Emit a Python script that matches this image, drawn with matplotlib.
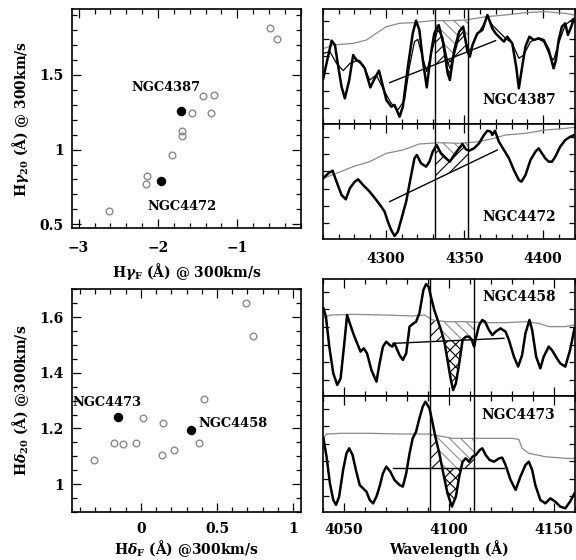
import numpy as np
import matplotlib
matplotlib.use("Agg")
import matplotlib.pyplot as plt
from matplotlib.ticker import MultipleLocator, NullFormatter

plt.rcParams['font.family'] = ['DejaVu Serif']
plt.rcParams['font.weight'] = 'bold'
plt.rcParams['axes.labelweight'] = 'bold'
plt.rcParams['mathtext.fontset'] = 'dejavuserif'
plt.rcParams['mathtext.default'] = 'bf'
plt.rcParams['hatch.linewidth'] = 0.8
plt.rcParams['font.size'] = 10

# ---------------- scatter data ----------------
hg_F_open = [-0.587, -0.495, -1.574, -1.436, -1.293, -1.331, -1.700, -1.693, -1.827, -2.142, -2.151, -2.613]
hg_20_open = [1.818, 1.740, 1.243, 1.359, 1.368, 1.243, 1.126, 1.092, 0.967, 0.821, 0.767, 0.588]
hg_names = ['NGC4387', 'NGC4472']
hg_F_named = [-1.709, -1.961]
hg_20_named = [1.258, 0.790]

hd_F_open = [0.688, 0.737, 0.413, 0.017, 0.146, -0.177, -0.114, -0.029, 0.382, 0.138, 0.220, -0.308]
hd_20_open = [1.650, 1.533, 1.307, 1.237, 1.218, 1.149, 1.143, 1.149, 1.147, 1.103, 1.124, 1.087]
hd_names = ['NGC4473', 'NGC4458']
hd_F_named = [-0.151, 0.329]
hd_20_named = [1.242, 1.194]

# ---------------- spectra (normalised flux, arbitrary units) ----------------
HGF_BAND = [4331.25, 4352.25]
HDF_BAND = [4091.0, 4112.25]

n4387_lam = [4260.2, 4262.7, 4265.5, 4267.6, 4269.7, 4271.8, 4273.9, 4276.7, 4279.2, 4281.3, 4283.4, 4286.6,
             4290.1, 4292.9, 4295.6, 4298.2, 4300.3, 4303.4, 4305.5, 4308.7, 4310.8, 4314.0, 4317.1, 4319.2,
             4321.3, 4323.5, 4326.0, 4328.7, 4330.8, 4333.6, 4336.5, 4339.3, 4340.7, 4343.5, 4346.6, 4349.2,
             4351.9, 4353.4, 4355.1, 4358.2, 4361.4, 4364.6, 4367.7, 4369.8, 4371.9, 4375.1, 4377.2, 4380.4,
             4382.9, 4384.6, 4386.7, 4388.8, 4391.3, 4394.1, 4397.2, 4400.4, 4403.6, 4406.7, 4408.2, 4409.9,
             4412.0, 4414.1, 4415.8, 4417.5, 4419.4]
n4387_flux = [39.5, 55.4, 72.2, 68.4, 49.6, 32.3, 22.2, 38.1, 59.7, 55.4, 54.0, 48.2,
              31.7, 39.5, 46.2, 32.3, 20.8, 15.0, 16.5, 6.3, 15.0, 49.6, 78.5, 89.5,
              81.4, 55.4, 31.7, 61.2, 78.5, 85.7, 69.8, 43.9, 38.1, 64.1, 79.9, 84.3,
              62.6, 58.3, 68.4, 78.5, 81.4, 94.4, 82.8, 78.5, 75.6, 71.3, 75.6, 69.8,
              49.6, 30.9, 49.6, 67.0, 75.6, 72.7, 74.2, 72.7, 64.1, 48.2, 55.4, 72.7,
              84.3, 87.2, 77.1, 82.8, 90.0]
n4387_smooth_lam = [4260.2, 4264.4, 4268.6, 4272.9, 4277.1, 4281.3, 4285.5, 4289.7, 4293.9, 4299.2, 4303.4,
                    4307.6, 4311.9, 4315.0, 4318.2, 4320.3, 4323.5, 4326.0, 4329.4, 4332.9, 4336.1, 4339.3,
                    4340.7, 4343.5, 4346.6, 4349.2, 4351.9, 4354.0, 4357.2, 4361.4, 4364.6, 4367.7, 4371.9,
                    4376.1, 4380.4, 4384.6, 4387.7, 4392.0, 4396.2, 4400.4, 4404.6, 4406.7, 4409.9, 4414.1,
                    4419.4]
n4387_smooth_flux = [61.2, 62.6, 52.5, 46.2, 52.5, 54.8, 51.1, 38.1, 42.4, 28.0, 17.9,
                     12.1, 20.8, 49.6, 71.3, 73.3, 56.9, 45.3, 64.1, 81.4, 75.6, 54.0,
                     48.2, 59.7, 75.6, 79.9, 65.5, 64.1, 75.6, 84.3, 92.9, 85.7, 79.9,
                     74.2, 69.8, 56.9, 59.7, 71.3, 74.2, 71.3, 58.3, 55.4, 69.8, 85.7,
                     91.5]
n4387_grey_lam = [4260.6, 4266.5, 4279.2, 4287.6, 4293.9, 4300.3, 4308.7, 4317.1, 4329.8, 4340.3, 4350.9,
                  4363.5, 4376.1, 4388.8, 4401.4, 4414.1, 4419.6]
n4387_grey_flux = [65.5, 68.4, 69.8, 72.7, 78.5, 84.3, 87.2, 87.7, 89.5, 89.5, 90.0,
                   92.9, 94.4, 96.4, 97.3, 95.8, 94.4]
n4387_cont_lam = [4302.4, 4369.8]
n4387_cont_flux = [35.8, 72.2]

n4472_lam = [4260.2, 4263.4, 4266.1, 4268.6, 4271.8, 4274.5, 4277.1, 4280.2, 4282.3, 4285.5, 4289.7, 4293.9,
             4297.1, 4299.2, 4301.3, 4303.4, 4305.5, 4307.6, 4309.7, 4312.9, 4316.1, 4318.2, 4319.7, 4322.4,
             4325.6, 4327.7, 4329.8, 4332.3, 4335.0, 4338.2, 4340.7, 4343.5, 4346.6, 4348.7, 4350.9, 4353.0,
             4356.1, 4359.3, 4362.4, 4364.6, 4366.7, 4367.7, 4369.4, 4371.9, 4375.1, 4378.3, 4381.4, 4384.6,
             4386.3, 4388.8, 4392.0, 4395.1, 4397.2, 4399.3, 4401.4, 4403.6, 4405.7, 4407.8, 4410.9, 4414.1,
             4417.3, 4420.0]
n4472_flux = [53.0, 57.3, 59.6, 50.1, 38.5, 34.8, 44.3, 50.1, 52.1, 47.2, 41.4, 34.2,
              28.4, 24.1, 15.4, 8.2, 3.0, 6.8, 16.9, 32.8, 55.8, 70.3, 73.2, 65.9,
              63.1, 67.4, 76.0, 81.8, 74.6, 70.3, 67.4, 73.2, 78.9, 82.7, 78.1, 76.9,
              78.9, 83.3, 90.5, 94.2, 93.4, 90.5, 94.2, 84.7, 77.5, 70.3, 60.2, 51.5,
              50.1, 55.8, 68.8, 76.0, 78.9, 74.6, 70.3, 67.4, 67.4, 71.7, 80.4, 86.1,
              89.0, 90.5]
n4472_grey_lam = [4260.2, 4268.6, 4279.2, 4289.7, 4300.3, 4310.8, 4321.3, 4334.0, 4346.6, 4359.3, 4368.8,
                  4376.1, 4388.8, 4401.4, 4414.1, 4420.0]
n4472_grey_flux = [53.0, 57.3, 63.1, 67.4, 74.6, 77.5, 82.7, 83.8, 83.3, 84.7, 87.6,
                   90.5, 91.9, 94.8, 96.2, 97.1]
n4472_cont_lam = [4302.4, 4370.9]
n4472_cont_flux = [32.8, 77.5]

n4458_lam = [4040.2, 4041.4, 4043.0, 4044.9, 4046.8, 4048.4, 4050.0, 4051.5, 4052.8, 4054.4, 4056.3, 4057.9,
             4059.4, 4061.0, 4063.1, 4065.5, 4067.0, 4068.6, 4070.2, 4071.8, 4073.0, 4074.1, 4076.5, 4078.1,
             4079.7, 4081.3, 4083.2, 4084.4, 4086.0, 4087.9, 4089.2, 4090.4, 4091.5, 4093.1, 4094.7, 4096.3,
             4097.9, 4099.4, 4101.0, 4102.1, 4103.4, 4105.0, 4106.6, 4108.1, 4109.7, 4111.0, 4112.1, 4112.9,
             4114.5, 4116.0, 4117.3, 4119.2, 4120.8, 4122.4, 4124.7, 4127.1, 4128.7, 4131.1, 4133.1, 4135.0,
             4136.6, 4138.5, 4139.8, 4141.7, 4143.7, 4145.3, 4147.7, 4149.2, 4151.6, 4153.2, 4155.6, 4157.9,
             4160.0]
n4458_flux = [74.9, 67.8, 42.2, 19.4, 9.4, 15.1, 42.2, 69.2, 62.1, 53.6, 45.0, 37.9,
              40.7, 36.5, 22.2, 12.3, 27.9, 42.2, 46.4, 43.6, 42.2, 45.0, 35.0, 30.8,
              36.5, 59.3, 62.1, 63.5, 70.7, 90.6, 95.7, 93.4, 84.9, 73.5, 65.0, 56.4,
              46.4, 30.8, 13.7, 5.1, 10.8, 27.9, 47.9, 50.7, 50.7, 47.9, 42.2, 49.3,
              60.7, 65.0, 63.5, 56.4, 52.1, 55.0, 57.8, 55.0, 47.9, 33.6, 25.1, 35.0,
              53.6, 65.0, 56.4, 33.6, 23.6, 33.6, 42.2, 39.3, 32.2, 27.9, 25.1, 39.3,
              57.8]
n4458_grey_lam = [4040.2, 4043.3, 4054.4, 4070.2, 4082.8, 4088.4, 4092.3, 4098.7, 4108.1, 4117.6, 4127.1,
                  4136.6, 4142.9, 4147.7, 4155.6, 4160.0]
n4458_grey_flux = [66.4, 69.2, 69.8, 69.2, 68.4, 69.2, 65.0, 63.5, 63.5, 62.7, 62.7,
                   63.5, 62.1, 59.3, 59.3, 60.7]
n4458_cont_lam = [4073.4, 4126.3]
n4458_cont_flux = [45.0, 49.3]

n4473_lam = [4040.2, 4041.7, 4043.3, 4044.9, 4046.2, 4047.7, 4049.6, 4051.2, 4052.5, 4054.1, 4055.7, 4057.5,
             4059.1, 4060.7, 4062.3, 4063.9, 4065.5, 4067.0, 4068.6, 4070.2, 4072.1, 4074.1, 4076.5, 4078.1,
             4079.7, 4081.3, 4082.8, 4084.4, 4086.0, 4087.6, 4088.9, 4090.8, 4092.0, 4093.6, 4095.5, 4097.4,
             4099.4, 4101.5, 4103.4, 4105.0, 4106.6, 4108.1, 4109.7, 4111.3, 4112.9, 4114.8, 4116.0, 4117.6,
             4119.5, 4121.6, 4124.0, 4125.5, 4127.1, 4129.5, 4131.9, 4134.2, 4136.6, 4138.2, 4139.8, 4141.3,
             4143.7, 4146.1, 4148.5, 4150.8, 4153.2, 4155.6, 4157.9, 4160.0]
n4473_flux = [63.6, 47.8, 24.9, 10.6, 6.3, 13.5, 36.4, 50.7, 55.0, 49.3, 36.4, 23.5,
              20.6, 17.8, 10.6, 7.7, 13.5, 22.1, 33.5, 39.3, 35.0, 27.8, 23.5, 22.1,
              33.5, 50.7, 63.6, 69.3, 80.8, 90.8, 95.1, 89.4, 79.4, 65.0, 50.7, 33.5,
              16.3, 4.9, 13.5, 30.7, 43.5, 46.4, 43.5, 47.8, 49.3, 53.6, 55.0, 49.3,
              45.0, 43.5, 46.4, 47.0, 40.7, 27.8, 19.2, 30.7, 40.7, 43.5, 36.4, 23.5,
              10.6, 7.7, 12.0, 9.2, 4.9, 3.4, 9.2, 16.3]
n4473_grey_lam = [4040.2, 4041.7, 4048.1, 4062.3, 4078.1, 4090.8, 4101.8, 4117.6, 4130.3, 4133.4, 4135.0,
                  4138.2, 4146.1, 4155.6, 4160.0]
n4473_grey_flux = [63.6, 67.3, 67.9, 67.9, 67.3, 67.3, 63.6, 63.6, 63.6, 62.7, 55.0,
                   50.7, 47.8, 46.4, 46.4]
n4473_cont_lam = [4073.4, 4126.3]
n4473_cont_flux = [37.8, 37.8]

# ---------------- figure ----------------
W, H = 576, 560
fig = plt.figure(figsize=(W / 100, H / 100), dpi=100)


def add_ax(x0, x1, y0, y1):
    return fig.add_axes([x0 / W, 1 - y1 / H, (x1 - x0) / W, (y1 - y0) / H])


def style(ax, xpad):
    ax.tick_params(which='both', direction='in', top=True, right=True, width=0.9)
    ax.tick_params(which='major', length=6.5)
    ax.tick_params(which='minor', length=3.5)
    ax.tick_params(axis='x', which='major', pad=xpad)
    ax.tick_params(axis='y', which='major', pad=6)
    for s in ax.spines.values():
        s.set_linewidth(1.2)


GREY = '#8a8a8a'
NAME_FS = 9.4

# top-left scatter
ax1 = add_ax(72.3, 300.7, 9.3, 228)
ax1.plot(hg_F_open, hg_20_open, 'o', ms=4.8, mfc='none', mec=GREY, mew=1.0)
ax1.plot(hg_F_named, hg_20_named, 'o', ms=5.8, mfc='k', mec='k')
ax1.set_xlim(-3.08, -0.2)
ax1.set_ylim(0.475, 1.94)
ax1.xaxis.set_minor_locator(MultipleLocator(0.2))
ax1.yaxis.set_minor_locator(MultipleLocator(0.1))
ax1.set_yticks([0.5, 1.0, 1.5], ['0.5', '1', '1.5'])
ax1.set_xticks([-3, -2, -1], ['\u22123', '\u22122', '\u22121'])
style(ax1, 9)
ax1.set_xlabel(r'H$\mathit{\gamma}_{\mathbf{F}}$ (Å) @ 300km/s', labelpad=5)
ax1.set_ylabel(r'H$\mathit{\gamma}_{\mathbf{20}}$ (Å) @ 300km/s', labelpad=6)
for name, x, y, off in zip(hg_names, hg_F_named, hg_20_named, [(-11, 17), (15.5, -18.5)]):
    ax1.annotate(name, (x, y), xytext=off, textcoords='offset points', ha='center', va='center',
                 fontsize=NAME_FS)

# bottom-left scatter
ax3 = add_ax(72.3, 300.7, 289.3, 512)
ax3.plot(hd_F_open, hd_20_open, 'o', ms=4.8, mfc='none', mec=GREY, mew=1.0)
ax3.plot(hd_F_named, hd_20_named, 'o', ms=5.8, mfc='k', mec='k')
ax3.set_xlim(-0.45, 1.05)
ax3.set_ylim(0.9, 1.7)
ax3.xaxis.set_minor_locator(MultipleLocator(0.1))
ax3.yaxis.set_minor_locator(MultipleLocator(0.05))
ax3.set_xticks([0, 0.5, 1], ['0', '0.5', '1'])
ax3.set_yticks([1.0, 1.2, 1.4, 1.6], ['1', '1.2', '1.4', '1.6'])
style(ax3, 7)
ax3.set_xlabel(r'H$\mathit{\delta}_{\mathbf{F}}$ (Å) @300km/s', labelpad=2)
ax3.set_ylabel(r'H$\mathit{\delta}_{\mathbf{20}}$ (Å) @300km/s', labelpad=6)
for name, x, y, off in zip(hd_names, hd_F_named, hd_20_named, [(-7.5, 10.5), (30.5, 5)]):
    ax3.annotate(name, (x, y), xytext=off, textcoords='offset points', ha='center', va='center',
                 fontsize=NAME_FS)


def spectrum_panel(ax, lam, flux, glam, gflux, clam, cflux, band, name, label_xy, smooth=None):
    grid = np.linspace(band[0], band[1], 600)
    s = np.interp(grid, lam, flux)
    g = np.interp(grid, glam, gflux)
    c = cflux[0] + (grid - clam[0]) * (cflux[1] - cflux[0]) / (clam[1] - clam[0])
    top = np.minimum(s, g)
    ax.fill_between(grid, c, top, where=top > c, interpolate=True, facecolor='none',
                    edgecolor='k', hatch='///', lw=0, zorder=1)
    low = np.maximum(s, c)
    ax.fill_between(grid, low, g, where=g > low, interpolate=True, facecolor='none',
                    edgecolor=GREY, hatch='\\\\\\', lw=0, zorder=1)
    ax.fill_between(grid, s, c, where=s < c, interpolate=True, facecolor='none',
                    edgecolor='k', hatch='xxx', lw=0, zorder=1)
    ax.plot(glam, gflux, color=GREY, lw=0.9, zorder=2)
    if smooth is not None:
        ax.plot(smooth[0], smooth[1], color='k', lw=0.9, zorder=3)
    ax.plot(lam, flux, color='k', lw=1.8, zorder=4, solid_joinstyle='round')
    ax.plot(clam, cflux, color='k', lw=1.0, zorder=4)
    for b in band:
        ax.axvline(b, color='k', lw=1.0, zorder=5)
    ax.text(label_xy[0], label_xy[1], name, ha='center', va='center', fontsize=9.9, zorder=6)
    ax.set_ylim(0, 100)
    ax.set_yticks([14, 29, 44, 59, 74, 89])
    ax.yaxis.set_major_formatter(NullFormatter())
    ax.tick_params(axis='y', which='major', length=4.5)


XR = 574.5
ax2a = add_ax(323, XR, 8.5, 124)
ax2b = add_ax(323, XR, 124, 239.5)
for ax in (ax2a, ax2b):
    ax.set_xlim(4260, 4420)
    ax.xaxis.set_major_locator(MultipleLocator(50))
    ax.xaxis.set_minor_locator(MultipleLocator(10))
    style(ax, 9)
spectrum_panel(ax2a, n4387_lam, n4387_flux, n4387_grey_lam, n4387_grey_flux,
               n4387_cont_lam, n4387_cont_flux, HGF_BAND, 'NGC4387', (4384.6, 20.8),
               smooth=(n4387_smooth_lam, n4387_smooth_flux))
spectrum_panel(ax2b, n4472_lam, n4472_flux, n4472_grey_lam, n4472_grey_flux,
               n4472_cont_lam, n4472_cont_flux, HGF_BAND, 'NGC4472', (4384.6, 19.2))
ax2a.xaxis.set_major_formatter(NullFormatter())

ax4a = add_ax(323, XR, 279, 396)
ax4b = add_ax(323, XR, 396, 512.3)
for ax in (ax4a, ax4b):
    ax.set_xlim(4040, 4160)
    ax.xaxis.set_major_locator(MultipleLocator(50))
    ax.xaxis.set_minor_locator(MultipleLocator(10))
    style(ax, 8)
spectrum_panel(ax4a, n4458_lam, n4458_flux, n4458_grey_lam, n4458_grey_flux,
               n4458_cont_lam, n4458_cont_flux, HDF_BAND, 'NGC4458', (4133.5, 84.4))
spectrum_panel(ax4b, n4473_lam, n4473_flux, n4473_grey_lam, n4473_grey_flux,
               n4473_cont_lam, n4473_cont_flux, HDF_BAND, 'NGC4473', (4133.1, 83.7))
ax4a.xaxis.set_major_formatter(NullFormatter())
ax4b.set_xlabel('Wavelength (Å)', labelpad=2)

fig.savefig('out.png', dpi=100)
